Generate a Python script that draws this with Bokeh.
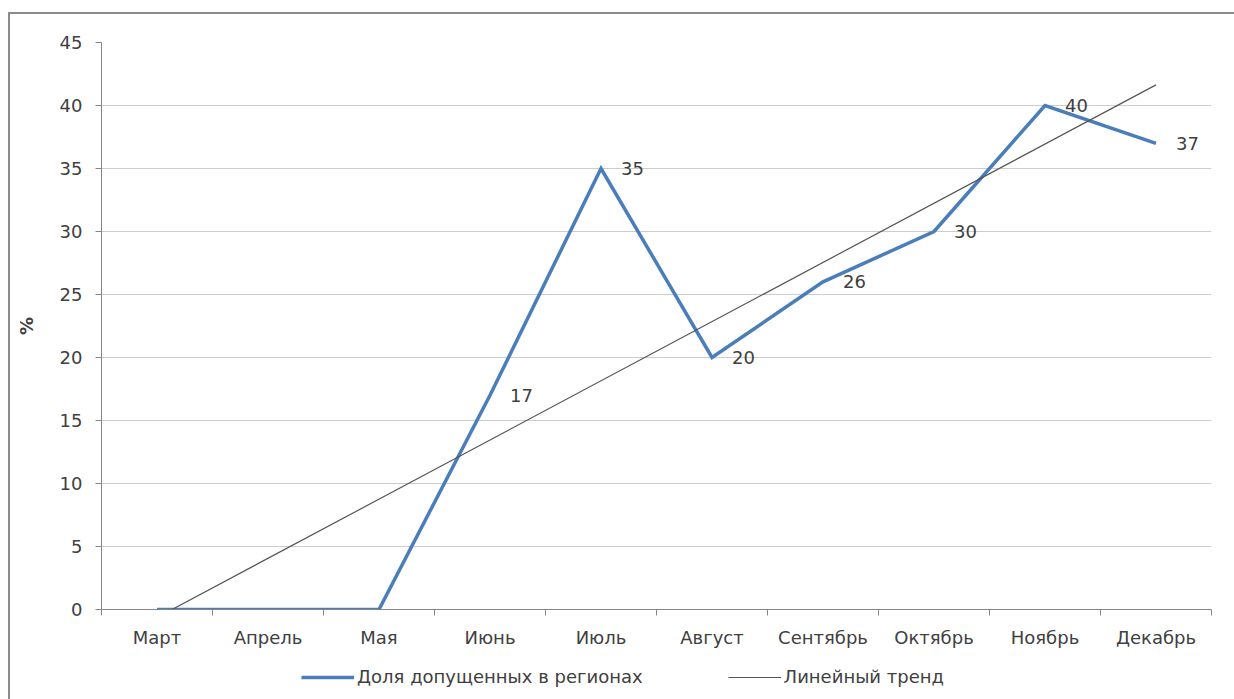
import numpy as np
from bokeh.plotting import figure
from bokeh.layouts import column
from bokeh.models import (Range1d, FixedTicker, Legend, LegendItem, ColumnDataSource, LinearAxis, Grid)
from bokeh.core.properties import value
from bokeh.embed import file_html
from bokeh.resources import INLINE

months = ["Март", "Апрель", "Мая", "Июнь", "Июль", "Август", "Сентябрь", "Октябрь", "Ноябрь", "Декабрь"]
share = [0, 0, 0, 17, 35, 20, 26, 30, 40, 37]
y_ticks = [0, 5, 10, 15, 20, 25, 30, 35, 40, 45]
series_name = "Доля допущенных в регионах"
trend_name = "Линейный тренд"
y_label = "%"

FONT = "DejaVu Sans"
TXT = "#404040"
BLUE = "#4a7ebb"
TREND = "#555555"
W = 1224

xs = [i + 0.5 for i in range(len(months))]

p = figure(width=W, height=641, output_backend="svg", toolbar_location=None,
           x_range=Range1d(0, len(months)), y_range=Range1d(0, 45),
           min_border_left=91, min_border_right=23, min_border_top=28, min_border_bottom=46,
           x_axis_type=None, y_axis_type=None)
p.outline_line_color = None
p.background_fill_color = "white"
p.border_fill_color = "white"

# axes
xaxis = LinearAxis(ticker=FixedTicker(ticks=xs, minor_ticks=list(range(len(months) + 1))))
xaxis.major_label_overrides = {x: m for x, m in zip(xs, months)}
xaxis.major_tick_out = 0
xaxis.major_tick_in = 0
xaxis.minor_tick_out = 6
xaxis.minor_tick_in = 0
xaxis.minor_tick_line_color = "#868686"
xaxis.axis_line_color = "#868686"
xaxis.major_label_standoff = 11
xaxis.major_label_text_font = FONT
xaxis.major_label_text_font_size = "18px"
xaxis.major_label_text_color = TXT
p.add_layout(xaxis, "below")

yaxis = LinearAxis(ticker=FixedTicker(ticks=y_ticks, minor_ticks=[]))
yaxis.axis_line_color = "#868686"
yaxis.major_tick_line_color = "#868686"
yaxis.major_tick_out = 6
yaxis.major_tick_in = 0
yaxis.major_label_standoff = 13
yaxis.major_label_text_font = FONT
yaxis.major_label_text_font_size = "18px"
yaxis.major_label_text_color = TXT
yaxis.axis_label = y_label
yaxis.axis_label_text_font = FONT
yaxis.axis_label_text_font_size = "18px"
yaxis.axis_label_text_font_style = "bold"
yaxis.axis_label_text_color = TXT
yaxis.axis_label_standoff = 20
p.add_layout(yaxis, "left")

grid = Grid(dimension=1, ticker=yaxis.ticker, grid_line_color="#cccccc", grid_line_width=1)
p.add_layout(grid)

# trend line (least squares over month index), clipped at the axis minimum
slope, intercept = np.polyfit(xs, share, 1)
x0 = max(xs[0], -intercept / slope)
tx = [x0, xs[-1]]
ty = [slope * x + intercept for x in tx]

p.line(xs, share, line_color=BLUE, line_width=3.5, line_join="miter")
p.line(tx, ty, line_color=TREND, line_width=1.2)

lab = ColumnDataSource(dict(x=[x for x, v in zip(xs, share) if v != 0],
                            y=[v for v in share if v != 0],
                            t=[str(v) for v in share if v != 0]))
p.text("x", "y", text="t", source=lab, x_offset=20, text_align="left", text_baseline="middle",
       text_font=value(FONT), text_font_size="18px", text_color=TXT)

# legend strip below the chart (legend glyph renderers kept outside the visible range)
lg = figure(width=W, height=44, output_backend="svg", toolbar_location=None,
            x_range=Range1d(0, 1), y_range=Range1d(0, 1),
            min_border_left=0, min_border_right=0, min_border_top=0, min_border_bottom=0,
            x_axis_type=None, y_axis_type=None)
lg.outline_line_color = None
lg.grid.visible = False
lr1 = lg.line([-5, -4], [-5, -5], line_color=BLUE, line_width=3.5)
lr2 = lg.line([-5, -4], [-5, -5], line_color=TREND, line_width=1.2)
legend = Legend(items=[LegendItem(label=series_name, renderers=[lr1]),
                       LegendItem(label=trend_name, renderers=[lr2])],
                orientation="horizontal", location=(200, 12),
                label_text_font=FONT, label_text_font_size="18px", label_text_color=TXT,
                glyph_width=53, glyph_height=20, label_standoff=3, spacing=85,
                padding=0, margin=0, border_line_color=None, background_fill_alpha=0)
lg.add_layout(legend, "center")

layout = column(p, lg, spacing=0)
layout.styles = {"border-top": "2px solid #8c8c8c", "border-left": "2px solid #8c8c8c",
                 "margin-top": "12px", "margin-left": "8px", "background-color": "white"}

open("out.html", "w").write(file_html(layout, INLINE))
